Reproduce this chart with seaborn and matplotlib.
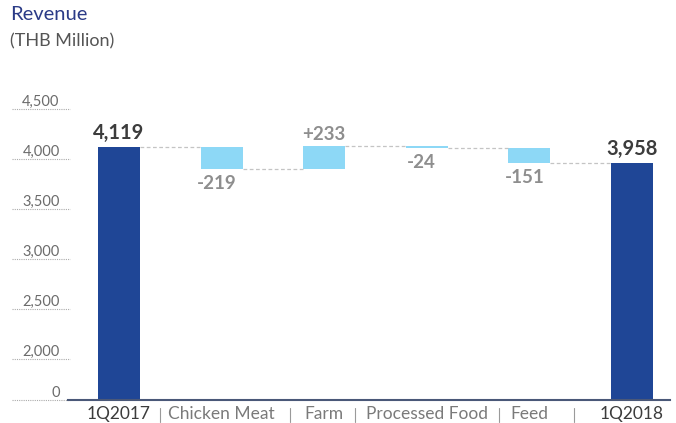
import numpy as np
import pandas as pd
import matplotlib
matplotlib.use("Agg")
import matplotlib.pyplot as plt
import matplotlib.transforms as mtransforms
import seaborn as sns

# data
categories = ["1Q2017", "Chicken Meat", "Farm", "Processed Food", "Feed", "1Q2018"]
start_value = 4119
changes = [-219, 233, -24, -151]
end_value = 3958
y_ticks = [2000, 2500, 3000, 3500, 4000, 4500]
axis_floor = 1590  # broken axis: this level is shown as "0"

sns.set_theme(style="white")
plt.rcParams["font.family"] = ["Lato", "DejaVu Sans"]

# running totals for the waterfall
levels = [start_value] + list(start_value + np.cumsum(changes))
tops = [start_value]
bottoms = [0]
for i in range(len(changes)):
    tops.append(max(levels[i], levels[i + 1]))
    bottoms.append(min(levels[i], levels[i + 1]))
tops.append(end_value)
bottoms.append(0)

df = pd.DataFrame({"cat": categories, "top": tops, "bottom": bottoms})
dark = "#1F4696"
light = "#8DD8F6"
colors = [dark] + [light] * len(changes) + [dark]
bw = 0.41

fig = plt.figure(figsize=(6.76, 4.23), dpi=100)
ax = fig.add_axes([68 / 676, 23 / 423, 602 / 676, 311 / 423])
sns.barplot(data=df, x="cat", y="top", hue="cat", palette=colors, width=bw,
            legend=False, saturation=1, linewidth=0, ax=ax)

# make the middle bars float
for patch, top, bot in zip(ax.patches, tops, bottoms):
    patch.set_y(bot)
    patch.set_height(top - bot)

# dashed connectors
for i, lvl in enumerate(levels):
    ax.plot([i + bw / 2, i + 1 - bw / 2], [lvl, lvl], color="#C4C4C4",
            lw=0.9, ls=(0, (3, 2)), zorder=1)

# value labels
ax.text(0, start_value + 45, f"{start_value:,}", ha="center", va="bottom",
        fontsize=14.5, fontweight="bold", color="#3C3C3C")
ax.text(len(categories) - 1, end_value + 45, f"{end_value:,}", ha="center",
        va="bottom", fontsize=14.5, fontweight="bold", color="#3C3C3C")
for i, c in enumerate(changes):
    x = i + 1
    if c > 0:
        ax.text(x, tops[x] + 30, f"+{c}", ha="center", va="bottom",
                fontsize=13.5, fontweight="bold", color="#8E8E8E")
    else:
        ax.text(x - 0.05, bottoms[x] - 55, f"{c}", ha="center", va="top",
                fontsize=13.5, fontweight="bold", color="#8E8E8E")

ax.set_xlim(-0.497, 5.37)
ax.set_ylim(axis_floor, 4700)

# y axis with underlined labels
ticks = [axis_floor] + y_ticks
ax.set_yticks(ticks, ["0"] + [f"{t:,}" for t in y_ticks])
ax.tick_params(axis="y", length=0, pad=6, labelsize=10.5, labelcolor="#6B6B6B")
for lbl in ax.get_yticklabels():
    lbl.set_va("bottom")
trans = mtransforms.blended_transform_factory(ax.transAxes, ax.transData)
for t in ticks:
    ax.plot([-0.093, 0.003], [t, t], transform=trans, clip_on=False,
            color="#AAAAAA", lw=0.8, ls=(0, (1, 1)))

# x axis
ax.tick_params(axis="x", length=0, pad=4, labelsize=12.5)
xlabels = ax.get_xticklabels()
for i, lbl in enumerate(xlabels):
    if i == 0 or i == len(categories) - 1:
        lbl.set_color("#3C3C3C")
    else:
        lbl.set_color("#7A7A7A")

for s in ["top", "right", "left"]:
    ax.spines[s].set_visible(False)
ax.spines["bottom"].set_color("#4A5878")
ax.spines["bottom"].set_linewidth(1.5)
ax.set_xlabel("")
ax.set_ylabel("")

# "|" separators halfway between neighbouring tick labels
fig.canvas.draw()
renderer = fig.canvas.get_renderer()
boxes = [lbl.get_window_extent(renderer) for lbl in xlabels]
trans_x = mtransforms.blended_transform_factory(ax.transData, ax.transAxes)
for left_box, right_box in zip(boxes[:-1], boxes[1:]):
    xd = (left_box.x1 + right_box.x0) / 2
    xdata = ax.transData.inverted().transform((xd, 0))[0]
    ax.plot([xdata, xdata], [-0.026, -0.071], transform=trans_x,
            clip_on=False, color="#9A9A9A", lw=0.8)

fig.text(10 / 676, 1 - 6 / 423, "Revenue", ha="left", va="top",
         fontsize=14.5, color="#2B3B87")
fig.text(10 / 676, 1 - 33 / 423, "(THB Million)", ha="left", va="top",
         fontsize=13, color="#555555")

fig.savefig("out.png", dpi=100)
